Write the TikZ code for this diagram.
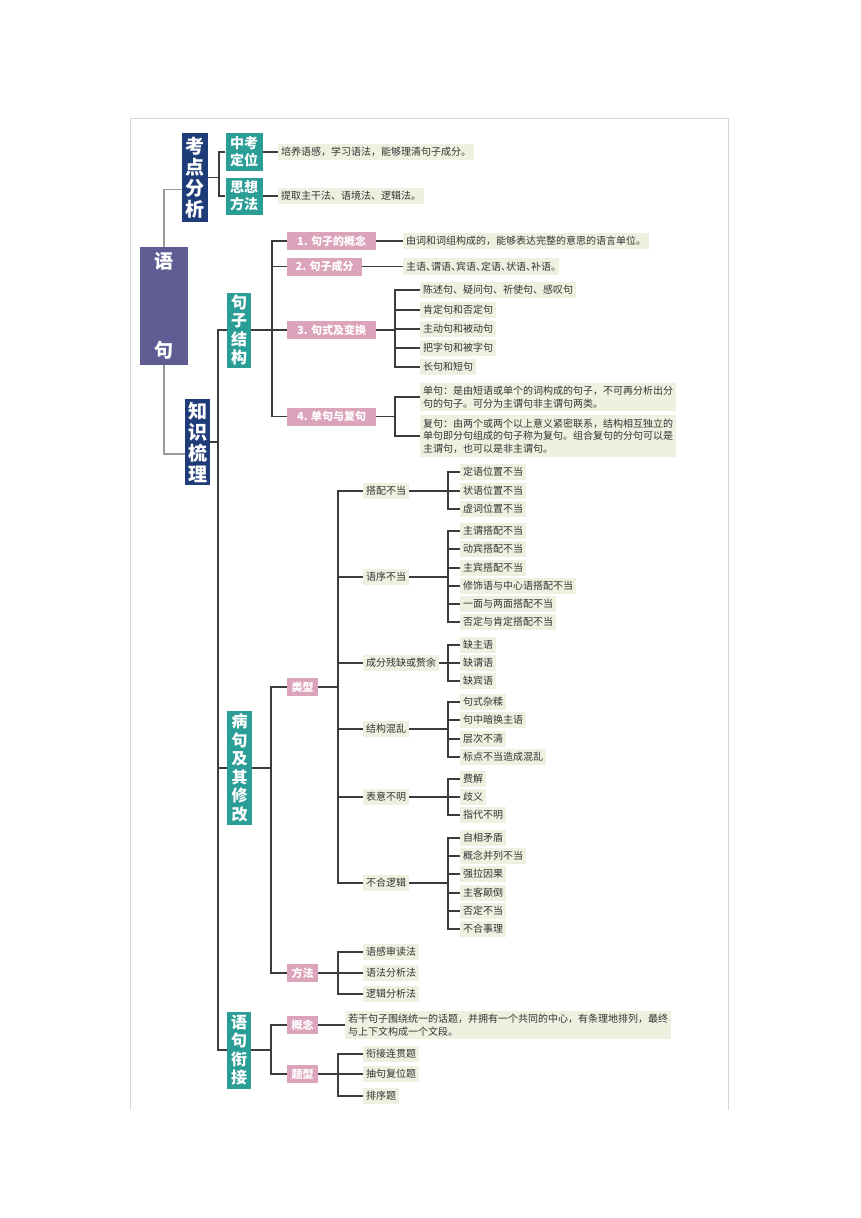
\documentclass[tikz,border=0pt]{standalone}
\usepackage{fontspec}
\newfontfamily\cjk{Noto Sans CJK SC}
\definecolor{navyc}{HTML}{1E3C78}
\definecolor{tealc}{HTML}{2A9D96}
\definecolor{purplec}{HTML}{5F5C94}
\definecolor{pinkc}{HTML}{DBA4BA}
\definecolor{beigec}{HTML}{F0F0E1}
\definecolor{textc}{HTML}{333333}
\definecolor{linec}{HTML}{3C3C3C}
\definecolor{lightc}{HTML}{9A9A9A}
\definecolor{framec}{HTML}{D5D5D5}
\tikzset{
  conn/.style={draw=linec, line width=1.1pt},
  connl/.style={draw=lightc, line width=1.1pt},
  vbox/.style={text=white, align=center, inner sep=0pt},
  navybox/.style={vbox, fill=navyc},
  tealbox/.style={vbox, fill=tealc},
  purplebox/.style={vbox, fill=purplec},
  pinkbox/.style={fill=pinkc, text=white, font=\cjk\bfseries\fontsize{11}{13}\selectfont,
    inner sep=0pt, minimum height=18pt, anchor=west},
  leaf/.style={fill=beigec, text=textc, font=\cjk\fontsize{10}{12.5}\selectfont,
    inner xsep=3pt, inner ysep=3.5pt, anchor=west, align=left},
  big/.style={font=\cjk\bfseries\fontsize{19}{21}\selectfont},
  mid/.style={font=\cjk\bfseries\fontsize{16}{18.5}\selectfont},
  sml/.style={font=\cjk\bfseries\fontsize{14}{17}\selectfont}
}
\begin{document}
\begin{tikzpicture}[x=1pt,y=-1pt]
\useasboundingbox[fill=white] (0,0) rectangle (860,1218);
% frame
\draw[framec, line width=0.8pt] (130,1110) -- (130,118) -- (728,118) -- (728,1110);

% top-level boxes
\node[purplebox, big, minimum width=48pt, minimum height=118pt] (yj) at (164,306) {语\\[68pt]句};
\node[navybox, big, minimum width=26pt, minimum height=89pt] (kd) at (195,177.5) {考\\点\\分\\析};
\node[tealbox, sml, minimum width=37pt, minimum height=38pt] (zk) at (244,152) {中考\\定位};
\node[tealbox, sml, minimum width=37pt, minimum height=37pt] (sx) at (244,196) {思想\\方法};
\node[leaf] (t1) at (278,152) {培养语感，学习语法，能够理清句子成分。};
\node[leaf] (t2) at (278,196) {提取主干法、语境法、逻辑法。};

\node[navybox, big, minimum width=25pt, minimum height=86pt] (zs) at (197.5,442) {知\\识\\梳\\理};
\node[tealbox, mid, minimum width=24pt, minimum height=75pt] (jz) at (239,330) {句\\子\\结\\构};
\node[tealbox, mid, minimum width=25pt, minimum height=114pt] (bj) at (239.5,768) {病\\句\\及\\其\\修\\改};
\node[tealbox, mid, minimum width=24pt, minimum height=77pt] (yx) at (239,1050) {语\\句\\衔\\接};

% connectors top
\draw[connl] (yj.north) |- ([yshift=-12pt]kd.west);
\draw[connl] (yj.south) |- ([yshift=-12pt]zs.west);
\coordinate (k1) at (219,177.5);
\draw[conn] (kd.east) -- (k1);
\draw[conn] (zk.west) -| (k1);
\draw[conn] (sx.west) -| (k1);
\draw[conn] (zk.east) -- (t1.west);
\draw[conn] (sx.east) -- (t2.west);

\coordinate (v1) at (218,442);
\draw[conn] (zs.east) -- (v1);
\draw[conn] (jz.west) -| (v1);
\draw[conn] (bj.west) -| (v1);
\draw[conn] (yx.west) -| (v1);

% 句子结构
\node[pinkbox, minimum width=89pt] (p1) at (287,241) {1. 句子的概念};
\node[pinkbox, minimum width=75pt] (p2) at (287,266.5) {2. 句子成分};
\node[pinkbox, minimum width=89pt] (p3) at (287,330) {3. 句式及变换};
\node[pinkbox, minimum width=89pt] (p4) at (287,416.5) {4. 单句与复句};
\coordinate (b1) at (272,330);
\draw[conn] (jz.east) -- (b1);
\foreach \n in {p1,p2,p3,p4} \draw[conn] (\n.west) -| (b1);

\node[leaf] (a1) at (403,241) {由词和词组构成的，能够表达完整的意思的语言单位。};
\node[leaf] (a2) at (403,266.5) {\addfontfeature{RawFeature=+halt}主语、谓语、宾语、定语、状语、补语。};
\draw[conn] (p1.east) -- (a1.west);
\draw[conn] (p2.east) -- (a2.west);

\node[leaf] (s1) at (420,290) {陈述句、疑问句、祈使句、感叹句};
\node[leaf] (s2) at (420,310) {肯定句和否定句};
\node[leaf] (s3) at (420,329) {主动句和被动句};
\node[leaf] (s4) at (420,348) {把字句和被字句};
\node[leaf] (s5) at (420,367) {长句和短句};
\coordinate (c3) at (395,330);
\draw[conn] (p3.east) -- (c3);
\foreach \n in {s1,s2,s3,s4,s5} \draw[conn] (\n.west) -| (c3);

\node[leaf] (d1) at (420,397) {单句：是由短语或单个的词构成的句子，不可再分析出分\\句的句子。可分为主谓句非主谓句两类。};
\node[leaf] (d2) at (420,436) {复句：由两个或两个以上意义紧密联系，结构相互独立的\\单句即分句组成的句子称为复句。组合复句的分句可以是\\主谓句，也可以是非主谓句。};
\coordinate (c4) at (395,416.5);
\draw[conn] (p4.east) -- (c4);
\draw[conn] (d1.west) -| (c4);
\draw[conn] (d2.west) -| (c4);

% 病句及其修改
\node[pinkbox, minimum width=31pt] (lx) at (287,687) {类型};
\node[pinkbox, minimum width=31pt] (ff) at (287,973) {方法};
\coordinate (b2) at (271,768);
\draw[conn] (bj.east) -- (b2);
\draw[conn] (lx.west) -| (b2);
\draw[conn] (ff.west) -| (b2);

\node[leaf] (g1) at (363,491) {搭配不当};
\node[leaf] (g2) at (363,577) {语序不当};
\node[leaf] (g3) at (363,663) {成分残缺或赘余};
\node[leaf] (g4) at (363,729) {结构混乱};
\node[leaf] (g5) at (363,797) {表意不明};
\node[leaf] (g6) at (363,883) {不合逻辑};
\coordinate (c5) at (338,687);
\draw[conn] (lx.east) -- (c5);
\foreach \n in {g1,g2,g3,g4,g5,g6} \draw[conn] (\n.west) -| (c5);

% sub items
\node[leaf] (h11) at (460,472) {定语位置不当};
\node[leaf] (h12) at (460,491) {状语位置不当};
\node[leaf] (h13) at (460,509) {虚词位置不当};
\coordinate (e1) at (448,491);
\draw[conn] (g1.east) -- (e1);
\foreach \n in {h11,h12,h13} \draw[conn] (\n.west) -| (e1);

\node[leaf] (h21) at (460,531) {主谓搭配不当};
\node[leaf] (h22) at (460,549) {动宾搭配不当};
\node[leaf] (h23) at (460,568) {主宾搭配不当};
\node[leaf] (h24) at (460,586) {修饰语与中心语搭配不当};
\node[leaf] (h25) at (460,604) {一面与两面搭配不当};
\node[leaf] (h26) at (460,622) {否定与肯定搭配不当};
\coordinate (e2) at (448,577);
\draw[conn] (g2.east) -- (e2);
\foreach \n in {h21,h22,h23,h24,h25,h26} \draw[conn] (\n.west) -| (e2);

\node[leaf] (h31) at (460,645) {缺主语};
\node[leaf] (h32) at (460,663) {缺谓语};
\node[leaf] (h33) at (460,681) {缺宾语};
\coordinate (e3) at (448,663);
\draw[conn] (g3.east) -- (e3);
\foreach \n in {h31,h32,h33} \draw[conn] (\n.west) -| (e3);

\node[leaf] (h41) at (460,702) {句式杂糅};
\node[leaf] (h42) at (460,720) {句中暗换主语};
\node[leaf] (h43) at (460,739) {层次不清};
\node[leaf] (h44) at (460,757) {标点不当造成混乱};
\coordinate (e4) at (448,729);
\draw[conn] (g4.east) -- (e4);
\foreach \n in {h41,h42,h43,h44} \draw[conn] (\n.west) -| (e4);

\node[leaf] (h51) at (460,779) {费解};
\node[leaf] (h52) at (460,797) {歧义};
\node[leaf] (h53) at (460,815) {指代不明};
\coordinate (e5) at (448,797);
\draw[conn] (g5.east) -- (e5);
\foreach \n in {h51,h52,h53} \draw[conn] (\n.west) -| (e5);

\node[leaf] (h61) at (460,838) {自相矛盾};
\node[leaf] (h62) at (460,856) {概念并列不当};
\node[leaf] (h63) at (460,874) {强拉因果};
\node[leaf] (h64) at (460,893) {主客颠倒};
\node[leaf] (h65) at (460,911) {否定不当};
\node[leaf] (h66) at (460,929) {不合事理};
\coordinate (e6) at (448,883);
\draw[conn] (g6.east) -- (e6);
\foreach \n in {h61,h62,h63,h64,h65,h66} \draw[conn] (\n.west) -| (e6);

% 方法
\node[leaf] (m1) at (363,952) {语感审读法};
\node[leaf] (m2) at (363,973) {语法分析法};
\node[leaf] (m3) at (363,994) {逻辑分析法};
\coordinate (c6) at (338,973);
\draw[conn] (ff.east) -- (c6);
\foreach \n in {m1,m2,m3} \draw[conn] (\n.west) -| (c6);

% 语句衔接
\node[pinkbox, minimum width=31pt] (gn) at (287,1025) {概念};
\node[pinkbox, minimum width=31pt] (tx) at (287,1074) {题型};
\coordinate (b3) at (271,1050);
\draw[conn] (yx.east) -- (b3);
\draw[conn] (gn.west) -| (b3);
\draw[conn] (tx.west) -| (b3);

\node[leaf] (gt) at (345,1025) {若干句子围绕统一的话题，并拥有一个共同的中心，有条理地排列，最终\\与上下文构成一个文段。};
\draw[conn] (gn.east) -- (gt.west);

\node[leaf] (q1) at (363,1054) {衔接连贯题};
\node[leaf] (q2) at (363,1074) {抽句复位题};
\node[leaf] (q3) at (363,1096) {排序题};
\coordinate (c7) at (338,1074);
\draw[conn] (tx.east) -- (c7);
\foreach \n in {q1,q2,q3} \draw[conn] (\n.west) -| (c7);
\end{tikzpicture}
\end{document}
